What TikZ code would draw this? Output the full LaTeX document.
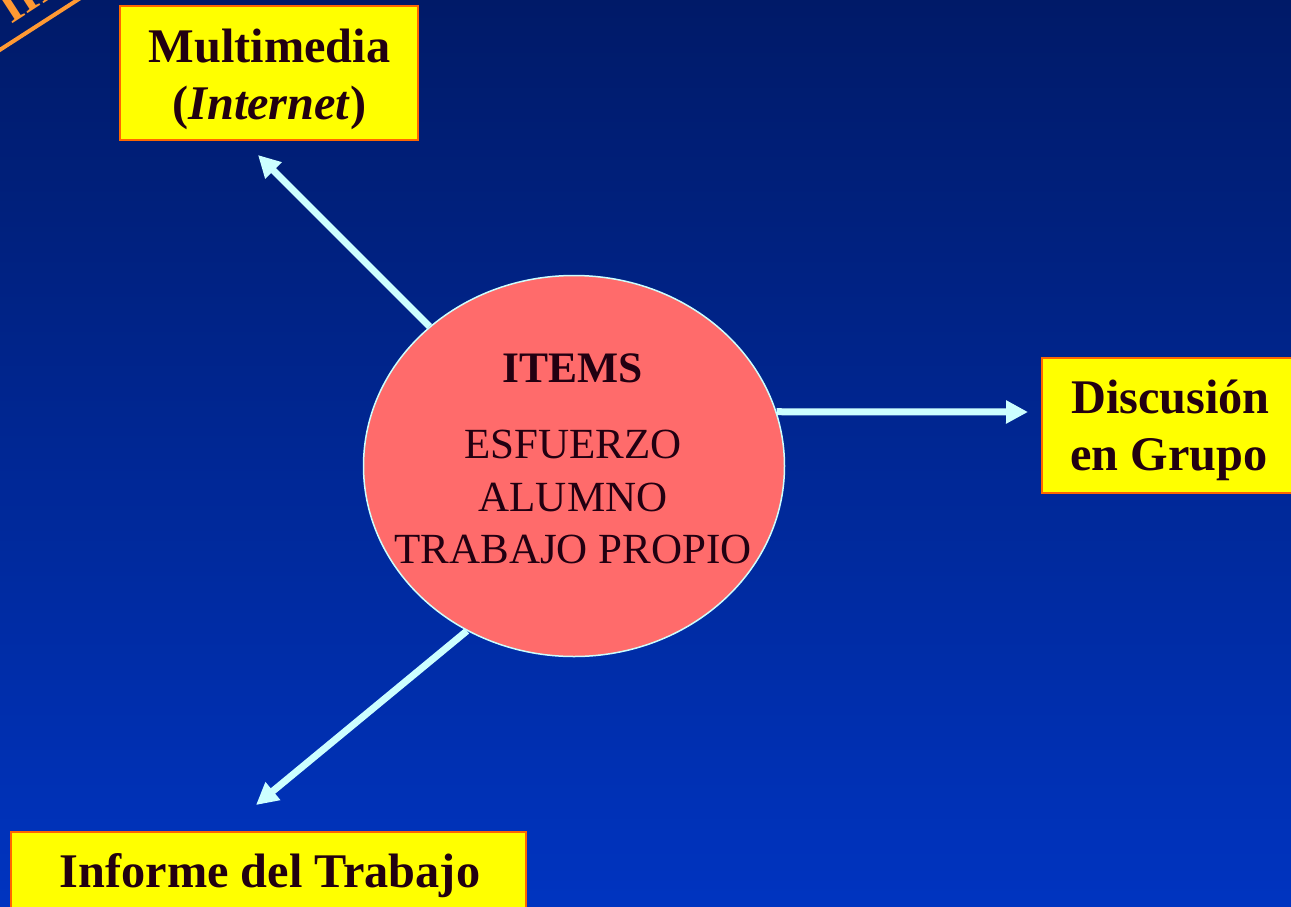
\documentclass[tikz,border=0pt]{standalone}
\usepackage{fontspec}
\setmainfont{Liberation Serif}
\usetikzlibrary{shapes.geometric,arrows.meta}
\definecolor{bgtop}{RGB}{0,26,104}
\definecolor{bgbot}{RGB}{0,52,192}
\definecolor{ellfill}{RGB}{255,107,107}
\definecolor{linecyan}{RGB}{204,255,255}
\definecolor{boxyellow}{RGB}{255,255,0}
\definecolor{boxborder}{RGB}{255,102,0}
\definecolor{txt}{RGB}{34,0,17}
\definecolor{bannerorange}{RGB}{255,153,51}
\begin{document}
\begin{tikzpicture}[x=1pt,y=-1pt,
  boxnode/.style={rectangle, draw=boxborder, line width=2pt, fill=boxyellow, inner sep=0},
  boxtext/.style={anchor=base, text=txt, font=\fontsize{48.3}{58}\selectfont\bfseries, inner sep=0},
  elltext/.style={anchor=base, text=txt, font=\fontsize{43}{52}\selectfont, inner sep=0},
  arr/.style={draw=linecyan, line width=7pt, -{Triangle[length=22pt,width=22pt]}}]
\useasboundingbox (0,0) rectangle (1291,906);
\begin{scope}
\clip (0,0) rectangle (1291,906);
\shade[top color=bgtop, bottom color=bgbot] (0,0) rectangle (1291,906);
% banner fragment in the corner
\draw[bannerorange, line width=4pt] (-5,53) -- (82,-3);
\node[rotate=33, anchor=base west, text=bannerorange, inner sep=0,
      font=\fontsize{48}{48}\selectfont\bfseries] (banner) at (11,25) {III};
% central ellipse
\node[ellipse, draw=linecyan, line width=1.5pt, fill=ellfill,
      minimum width=421pt, minimum height=381pt, inner sep=0] (ell) at (574,466) {};
\node[elltext, font=\fontsize{43.5}{52}\selectfont\bfseries] (items) at (573,382) {ITEMS};
\node[elltext] (esf) at (573,458) {ESFUERZO};
\node[elltext] (alu) at (573,511) {ALUMNO};
\node[elltext] (tra) at (573,563) {TRABAJO PROPIO};
% boxes
\node[boxnode, minimum width=298pt, minimum height=134pt] (mm) at (268.5,73) {};
\node[boxtext] (mm1) at (269.5,62) {Multimedia};
\node[boxtext] (mm2) at (269.5,119) {(\textit{Internet})};
\node[boxnode, minimum width=260pt, minimum height=135pt] (dg) at (1172,425.5) {};
\node[boxtext] (dg1) at (1170.5,413) {Discusión};
\node[boxtext] (dg2) at (1169,470) {en Grupo};
\node[boxnode, minimum width=515pt, minimum height=110pt] (inf) at (268.5,887) {};
\node[boxtext] (inf1) at (270,887) {Informe del Trabajo};
% arrows
\coordinate (tipmm) at (258,155);
\coordinate (tipdg) at (1028,412);
\coordinate (tipinf) at (256,805);
\draw[arr] (ell.136) -- (tipmm);
\draw[arr] (ell.15) -- (tipdg);
\draw[arr] (ell.237) -- (tipinf);
\end{scope}
\end{tikzpicture}
\end{document}
